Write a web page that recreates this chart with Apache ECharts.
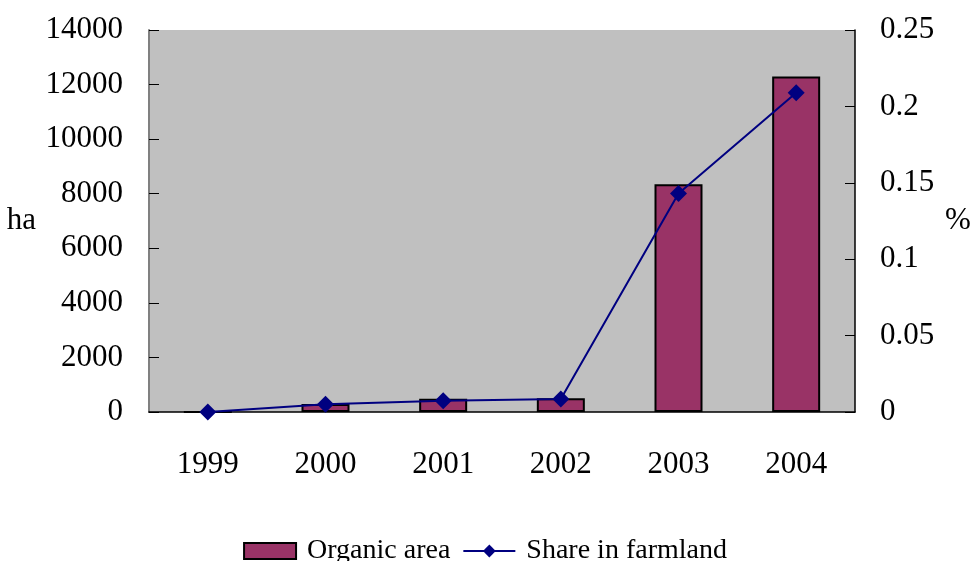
<html>
<head>
<meta charset="utf-8">
<title>organic area</title>
<script src="https://cdn.jsdelivr.net/npm/echarts@6/dist/echarts.min.js"></script>
</head>
<body style="margin:0;background:#fff">
<div id="container" style="width:970px;height:561px"></div>
<script type="text/javascript">
    var years = ['1999', '2000', '2001', '2002', '2003', '2004'];
    var organicArea = [0, 290, 490, 500, 8350, 12300];   // ha
    var shareFarmland = [0, 0.005, 0.0074, 0.0085, 0.143, 0.209];  // %
    var leftTicks = [0, 2000, 4000, 6000, 8000, 10000, 12000, 14000];
    var rightTicks = [0, 0.05, 0.1, 0.15, 0.2, 0.25];

    var font = '"Liberation Serif", "Times New Roman", serif';
    var myChart = echarts.init(document.getElementById('container'));

    var option = {
        animation: false,
        textStyle: {fontFamily: font},
        grid: {
            left: 149, right: 115, top: 30, bottom: 149,
            outerBoundsMode: 'none',
            containLabel: false,
            show: true,
            backgroundColor: '#c0c0c0',
            borderWidth: 0
        },
        legend: {
            bottom: -9,
            left: 'center',
            itemWidth: 52,
            itemHeight: 16,
            itemGap: 12,
            textStyle: {fontFamily: font, fontSize: 28, color: '#000', padding: [0, 0, 0, 6]},
            data: [
                {name: 'Organic area', icon: 'rect'},
                {name: 'Share in farmland'}
            ]
        },
        xAxis: {
            type: 'category',
            data: years,
            axisLine: {lineStyle: {color: '#000', width: 1.5}},
            axisTick: {inside: true, length: 8, lineStyle: {color: '#000'}},
            axisLabel: {fontFamily: font, fontSize: 31, color: '#000', margin: 37},
            splitLine: {show: false}
        },
        yAxis: [
            {
                type: 'value',
                min: 0, max: leftTicks[leftTicks.length - 1], interval: 2000,
                name: 'ha',
                nameLocation: 'middle',
                nameRotate: 0,
                nameGap: 113,
                nameTextStyle: {fontFamily: font, fontSize: 31, color: '#000'},
                axisLine: {show: true, lineStyle: {color: '#808080', width: 2}},
                axisTick: {show: true, inside: true, length: 10, lineStyle: {color: '#000'}},
                axisLabel: {
                    fontFamily: font, fontSize: 31, color: '#000', margin: 26,
                    formatter: function (v) { return String(v); }
                },
                splitLine: {show: false}
            },
            {
                type: 'value',
                min: 0, max: rightTicks[rightTicks.length - 1], interval: 0.05,
                name: '%',
                nameLocation: 'middle',
                nameRotate: 0,
                nameGap: 90,
                nameTextStyle: {fontFamily: font, fontSize: 31, color: '#000'},
                axisLine: {show: true, lineStyle: {color: '#000', width: 1.5}},
                axisTick: {show: true, inside: true, length: 10, lineStyle: {color: '#000'}},
                axisLabel: {
                    fontFamily: font, fontSize: 31, color: '#000', margin: 25,
                    formatter: function (v) { return String(+v.toFixed(2)); }
                },
                splitLine: {show: false}
            }
        ],
        series: [
            {
                name: 'Organic area',
                type: 'bar',
                data: organicArea,
                barWidth: 48,
                itemStyle: {color: '#993366', borderColor: '#000', borderWidth: 2}
            },
            {
                name: 'Share in farmland',
                type: 'line',
                yAxisIndex: 1,
                data: shareFarmland,
                symbol: 'diamond',
                symbolSize: 17,
                lineStyle: {color: '#000080', width: 2},
                itemStyle: {color: '#000080'}
            }
        ]
    };
    myChart.setOption(option, true);
</script>
</body>
</html>
